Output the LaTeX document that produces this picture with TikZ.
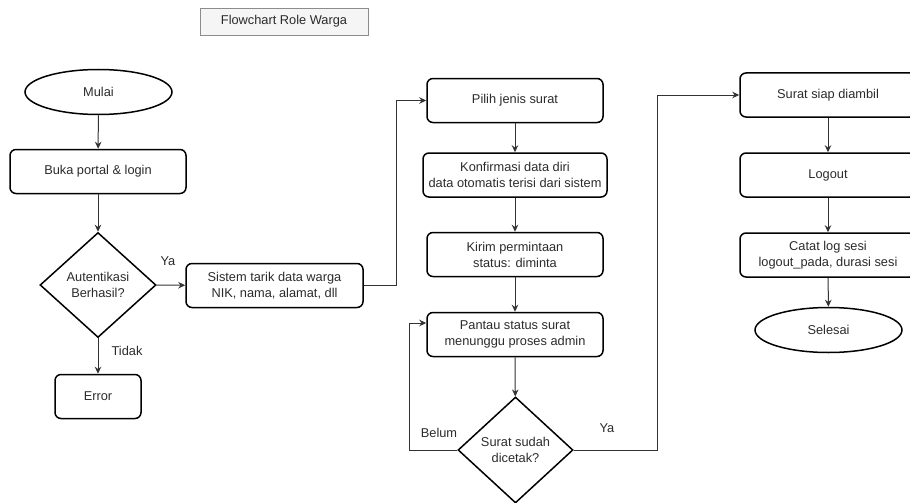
\documentclass[tikz,border=0pt]{standalone}
\usepackage{fontspec}
\setmainfont{Liberation Sans}
\usetikzlibrary{shapes.geometric,arrows.meta}
\definecolor{txt}{HTML}{2B2B2B}
\definecolor{ln}{HTML}{333333}
\tikzset{
  base/.style={draw=black, line width=1.5pt, text=txt, align=center, inner sep=2pt, font=\fontsize{12.8}{16}\selectfont},
  proc/.style={base, rectangle, rounded corners=6pt, minimum height=44pt},
  term/.style={base, ellipse, minimum width=147pt, minimum height=45pt},
  dec/.style={base, diamond, inner sep=0pt},
  arr/.style={draw=ln, line width=1pt, -{Stealth[length=7pt,width=6.5pt]}},
  lbl/.style={text=txt, font=\fontsize{12.8}{16}\selectfont, inner sep=0pt}
}
\begin{document}
\begin{tikzpicture}[x=1pt,y=-1pt]
\useasboundingbox (0,0) rectangle (910,503);
\node[draw=black!45, fill=black!4, line width=0.9pt, text=txt, minimum width=168pt, minimum height=27pt, font=\fontsize{12.8}{16}\selectfont] (title) at (284,21.5) {Flowchart Role Warga};

\node[term] (mulai) at (98.5,92) {Mulai};
\node[proc, minimum width=176pt] (buka) at (98,171.5) {Buka portal \& login};
\node[dec, minimum width=116pt, minimum height=105pt] (auth) at (98,285) {Autentikasi\\Berhasil?};
\node[proc, minimum width=177pt] (sistem) at (274.5,285.5) {Sistem tarik data warga\\NIK, nama, alamat, dll};
\node[proc, minimum width=86pt] (error) at (98,396.5) {Error};

\node[proc, minimum width=176pt] (pilih) at (515,100.5) {Pilih jenis surat};
\node[proc, minimum width=184pt] (konf) at (515,175) {Konfirmasi data diri\\data otomatis terisi dari sistem};
\node[proc, minimum width=176pt] (kirim) at (515,254.5) {Kirim permintaan\\status: diminta};
\node[proc, minimum width=176pt] (pantau) at (515,334.5) {Pantau status surat\\menunggu proses admin};
\node[dec, minimum width=115pt, minimum height=106pt] (cetak) at (515.5,450) {Surat sudah\\dicetak?};

\node[proc, minimum width=176pt] (siap) at (828,95) {Surat siap diambil};
\node[proc, minimum width=176pt] (logout) at (828,175) {Logout};
\node[proc, minimum width=176pt] (catat) at (828,255) {Catat log sesi\\logout\_pada, durasi sesi};
\node[term] (selesai) at (828.5,330) {Selesai};

\draw[arr] (mulai) -- (buka);
\draw[arr] (buka) -- (auth);
\draw[arr] (auth) -- (error);
\draw[arr] (auth) -- (sistem);
\draw[arr] (sistem.east) -- (396,285.5) |- (pilih.west);
\draw[arr] (pilih) -- (konf);
\draw[arr] (konf) -- (kirim);
\draw[arr] (kirim) -- (pantau);
\draw[arr] (pantau) -- (cetak);
\draw[arr] (cetak.west) -- (409,450) |- ([yshift=11.5pt]pantau.west);
\draw[arr] (cetak.east) -- (657,450) |- (siap.west);
\draw[arr] (siap) -- (logout);
\draw[arr] (logout) -- (catat);
\draw[arr] (catat) -- (selesai);

\node[lbl] (ya1) at (168,261) {Ya};
\node[lbl] (tidak) at (127,351) {Tidak};
\node[lbl] (belum) at (439,433) {Belum};
\node[lbl] (ya2) at (607,428) {Ya};
\end{tikzpicture}
\end{document}
